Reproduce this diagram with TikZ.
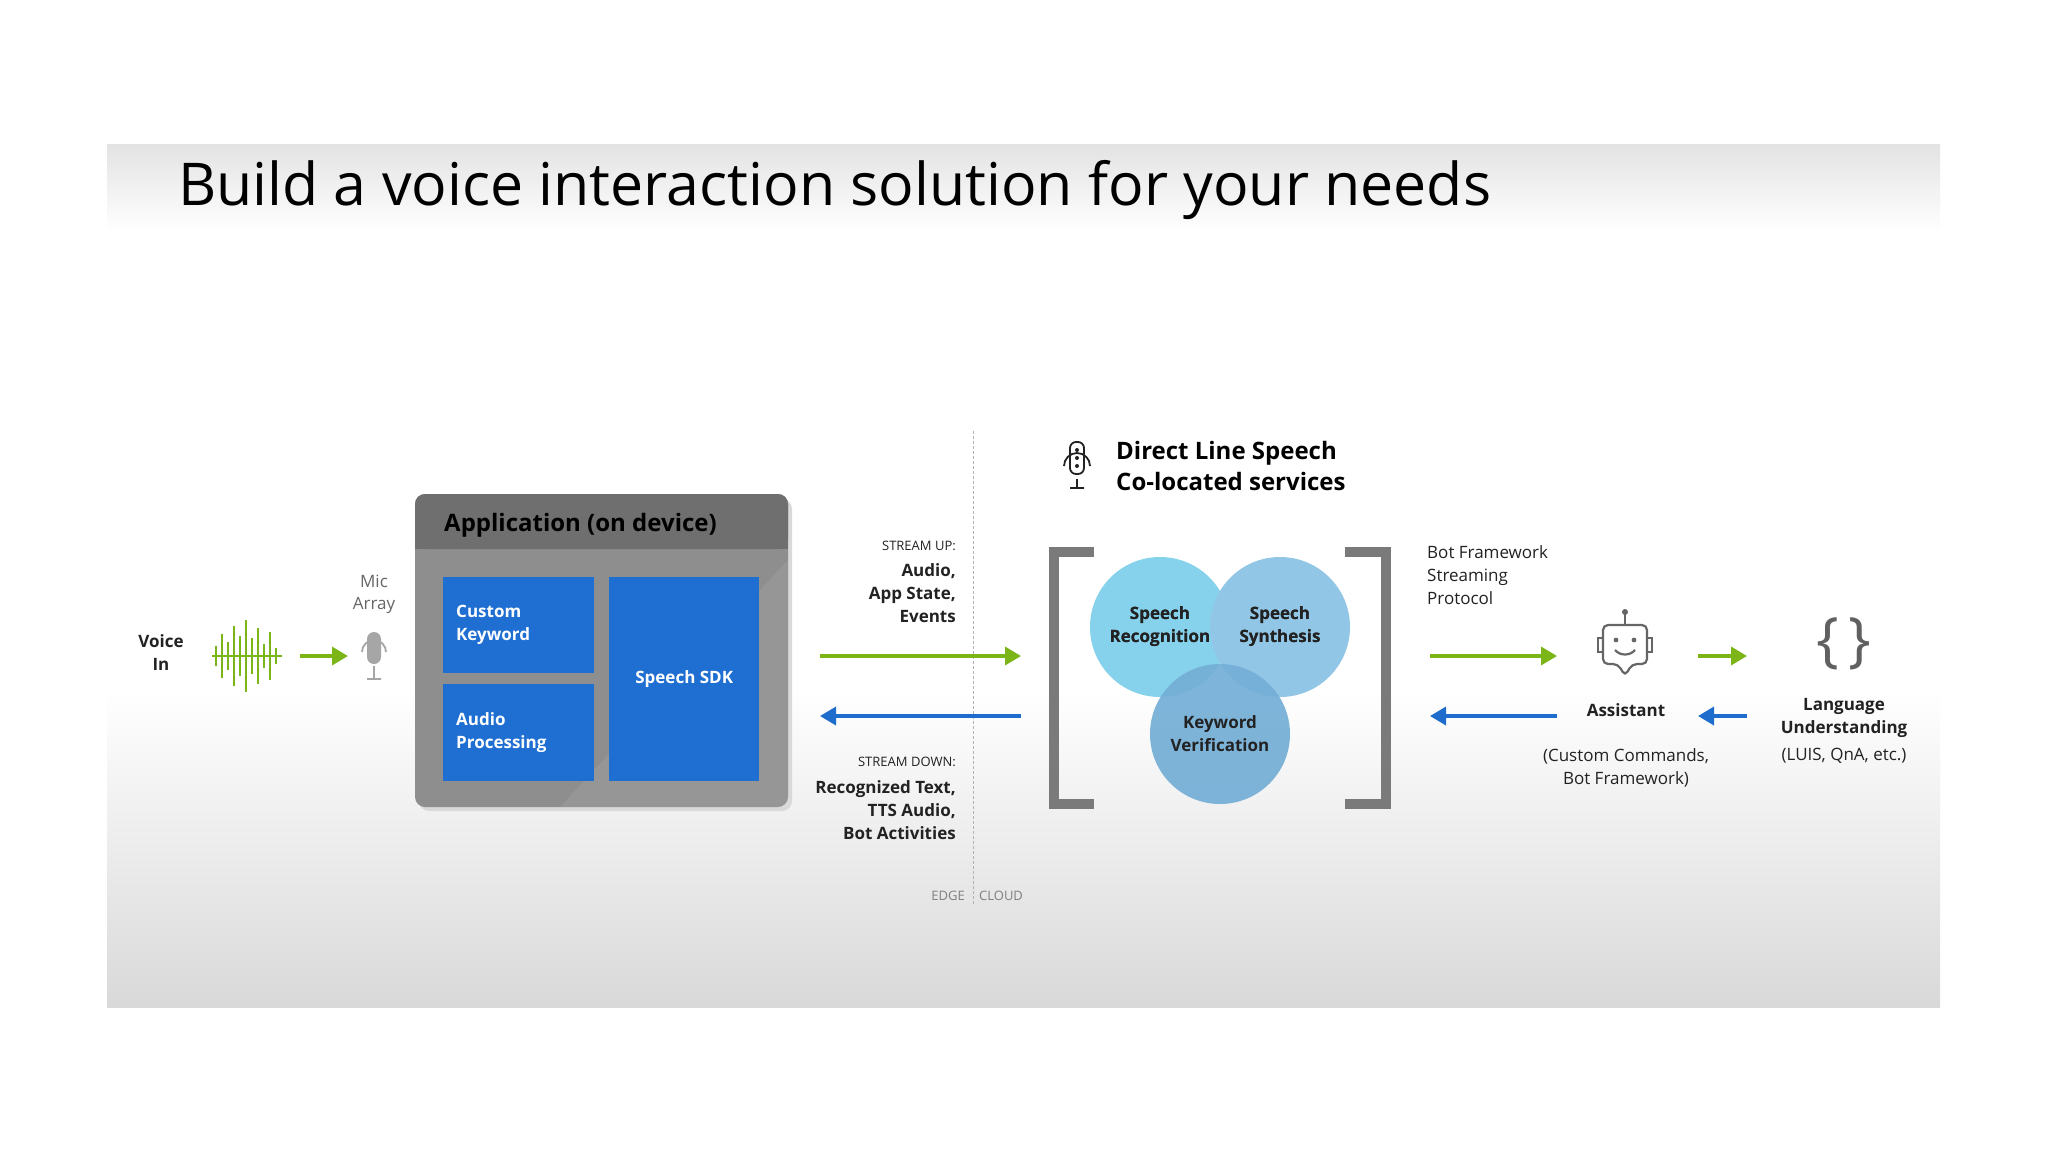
\documentclass[tikz,border=0pt]{standalone}
\usepackage{fontspec}
\setmainfont{Open Sans}
\usetikzlibrary{arrows.meta}
\definecolor{gA}{HTML}{7CB518}
\definecolor{bA}{HTML}{1E6CCB}
\definecolor{boxB}{HTML}{1F6FD2}
\definecolor{appG}{HTML}{8E8E8E}
\definecolor{hdG}{HTML}{6F6F6F}
\definecolor{brk}{HTML}{7A7A7A}
\definecolor{cSR}{HTML}{86D2EC}
\definecolor{cSS}{HTML}{92C6E6}
\definecolor{cKV}{HTML}{74AED6}
\definecolor{txt}{HTML}{222222}
\tikzset{
 x=1pt,y=-1pt,
 fs/.style={font=\fontsize{#1}{\fpeval{#1*1.3}}\selectfont},
 lbl/.style={text=txt,fs=17,align=center,inner sep=0},
 blbl/.style={text=txt,font=\bfseries\fontsize{17}{23}\selectfont,align=center,inner sep=0},
 inbox/.style={fill=boxB,draw=none,text=white,font=\bfseries\fontsize{17}{23}\selectfont,align=left},
 garr/.style={draw=gA,line width=3.5pt,-{Triangle[length=16pt,width=18pt]}},
 barr/.style={draw=bA,line width=3.5pt,-{Triangle[length=16pt,width=18pt]}},
 circ/.style={circle,minimum size=140pt,inner sep=0,text=txt,font=\bfseries\fontsize{17}{23}\selectfont,align=center},
 stream/.style={anchor=north east,align=right,inner sep=0,text=txt,font=\bfseries\fontsize{17}{23}\selectfont},
}
\begin{document}
\begin{tikzpicture}
\useasboundingbox (0,0) rectangle (2048,1152);
\fill[white] (0,0) rectangle (2048,1152);
% slide background
\shade[top color=gray!22,bottom color=white] (107,144) rectangle (1940,232);
\fill[white] (107,232) rectangle (1940,690);
\shade[top color=white,bottom color=gray!30] (107,690) rectangle (1940,1007);
\node[anchor=west,text=black,fs=59,inner sep=0] (title) at (178,190) {Build a voice interaction solution for your needs};
% edge/cloud line
\draw[densely dashed,gray!60,line width=0.8pt] (973,431) -- (973,905);
\node[anchor=east,text=gray,fs=13,inner sep=0] (edge) at (965,896) {EDGE};
\node[anchor=west,text=gray,fs=13,inner sep=0] (cloud) at (979,896) {CLOUD};
% voice in
\node[blbl] (voice) at (161,653) {Voice\\In};
\foreach \i/\h in {0/10,1/22,2/14,3/30,4/20,5/36,6/18,7/28,8/12,9/24,10/8}{
  \draw[gA,line width=2.6pt] (216+\i*6,656-\h) -- (216+\i*6,656+\h);}
\draw[gA,line width=2pt] (212,656) -- (282,656);
% mic
\node[lbl,text=gray!80!black] (micl) at (374,594) {Mic\\Array};
\fill[gray!70,rounded corners=7pt] (367,632) rectangle (381,664);
\draw[gray!70,line width=1.8pt] (362,652) arc[start angle=180,end angle=360,radius=12] (374,666) -- (374,678) (367,679) -- (381,679);
\draw[garr] (300,656) -- (348,656);
% app box
\fill[black!15,rounded corners=10pt] (419,499) rectangle (792,811);
\fill[appG,rounded corners=10pt] (415,494) rectangle (788,807);
\fill[hdG,rounded corners=10pt] (415,494) rectangle (788,549);
\fill[hdG] (415,530) rectangle (788,549);
\fill[white,opacity=0.08] (560,807) -- (788,560) -- (788,807) -- cycle;
\node[anchor=west,font=\bfseries\fontsize{24}{30}\selectfont,text=black,inner sep=0] (apphd) at (444,525) {Application (on device)};
\node[inbox,minimum width=151pt,minimum height=96pt,anchor=north west,text width=125pt] (ck) at (443,577) {Custom\\Keyword};
\node[inbox,minimum width=151pt,minimum height=97pt,anchor=north west,text width=125pt] (ap) at (443,684) {Audio\\Processing};
\node[inbox,minimum width=150pt,minimum height=204pt,anchor=north west,align=center] (sdk) at (609,577) {Speech SDK};
\coordinate (appE1) at (820,656);
\coordinate (appE2) at (820,716);
\coordinate (clA1) at (1021,656);
\coordinate (clA2) at (1021,716);
\draw[garr] (appE1) -- (clA1);
\draw[barr] (clA2) -- (appE2);
\node[anchor=north east,inner sep=0,text=txt,font=\fontsize{13}{16}\selectfont] (upl) at (956,541) {STREAM UP:};
\node[stream] (up) at (956,563) {Audio,\\App State,\\Events};
\node[anchor=north east,inner sep=0,text=txt,font=\fontsize{13}{16}\selectfont] (downl) at (956,757) {STREAM DOWN:};
\node[stream] (down) at (956,780) {Recognized Text,\\TTS Audio,\\Bot Activities};
% direct line speech
\draw[txt,line width=1.8pt,rounded corners=6pt] (1070,442) rectangle (1084,474);
\foreach \yy in {450,458,466} \fill[txt] (1077,\yy) circle (2pt);
\draw[txt,line width=1.8pt] (1064,466) arc[start angle=180,end angle=360,radius=13] (1077,479) -- (1077,487) (1070,488) -- (1084,488);
\node[anchor=west,align=left,inner sep=0,text=black,font=\bfseries\fontsize{24}{31}\selectfont] (dls) at (1116,466) {Direct Line Speech\\Co-located services};
% brackets
\draw[brk,line width=10pt] (1094,552) -- (1054,552) -- (1054,804) -- (1094,804);
\draw[brk,line width=10pt] (1345,552) -- (1386,552) -- (1386,804) -- (1345,804);
\node[circ,fill=cSR] (sr) at (1160,627) {Speech\\Recognition};
\node[circ,fill=cSS] (ss) at (1280,627) {Speech\\Synthesis};
\node[circ,fill=cKV,opacity=0.92,text opacity=1] (kv) at (1220,734) {Keyword\\Verification};
\node[text=txt,font=\bfseries\fontsize{17}{23}\selectfont,align=center] at (sr) {Speech\\Recognition};
\node[text=txt,font=\bfseries\fontsize{17}{23}\selectfont,align=center] at (ss) {Speech\\Synthesis};
% right side
\node[anchor=north west,align=left,inner sep=0,text=txt,font=\fontsize{17}{23}\selectfont] (bfs) at (1427,545) {Bot Framework\\Streaming\\Protocol};
\coordinate (clB1) at (1430,656);
\coordinate (clB2) at (1430,716);
\coordinate (asA1) at (1557,656);
\coordinate (asA2) at (1557,716);
\draw[garr] (clB1) -- (asA1);
\draw[barr] (asA2) -- (clB2);
% robot
\begin{scope}[gray!80!black,line width=2.2pt]
\draw[rounded corners=5pt] (1603,625) -- (1647,625) -- (1647,664) -- (1632,664) -- (1625,676) -- (1618,664) -- (1603,664) -- cycle;
\draw (1625,625) -- (1625,614);
\fill (1625,612) circle (3pt);
\draw (1603,638) -- (1598,638) -- (1598,652) -- (1603,652);
\draw (1647,638) -- (1652,638) -- (1652,652) -- (1647,652);
\fill (1616,640) circle (2.4pt) (1634,640) circle (2.4pt);
\draw (1615,650) .. controls (1620,656) and (1630,656) .. (1635,650);
\end{scope}
\node[blbl] (asst) at (1626,710) {Assistant};
\node[lbl,font=\fontsize{17}{23}\selectfont] (cc) at (1626,768) {(Custom Commands,\\Bot Framework)};
\draw[garr] (1698,656) -- (1747,656);
\draw[barr] (1747,716) -- (1698,716);
\node[text=gray!75!black,font=\fontsize{60}{60}\selectfont,inner sep=0] (brace) at (1844,644) {\{\,\}};
\node[blbl,anchor=north] (lu) at (1844,698) {Language\\Understanding};
\node[lbl] (luis) at (1844,756) {(LUIS, QnA, etc.)};
\end{tikzpicture}
\end{document}
